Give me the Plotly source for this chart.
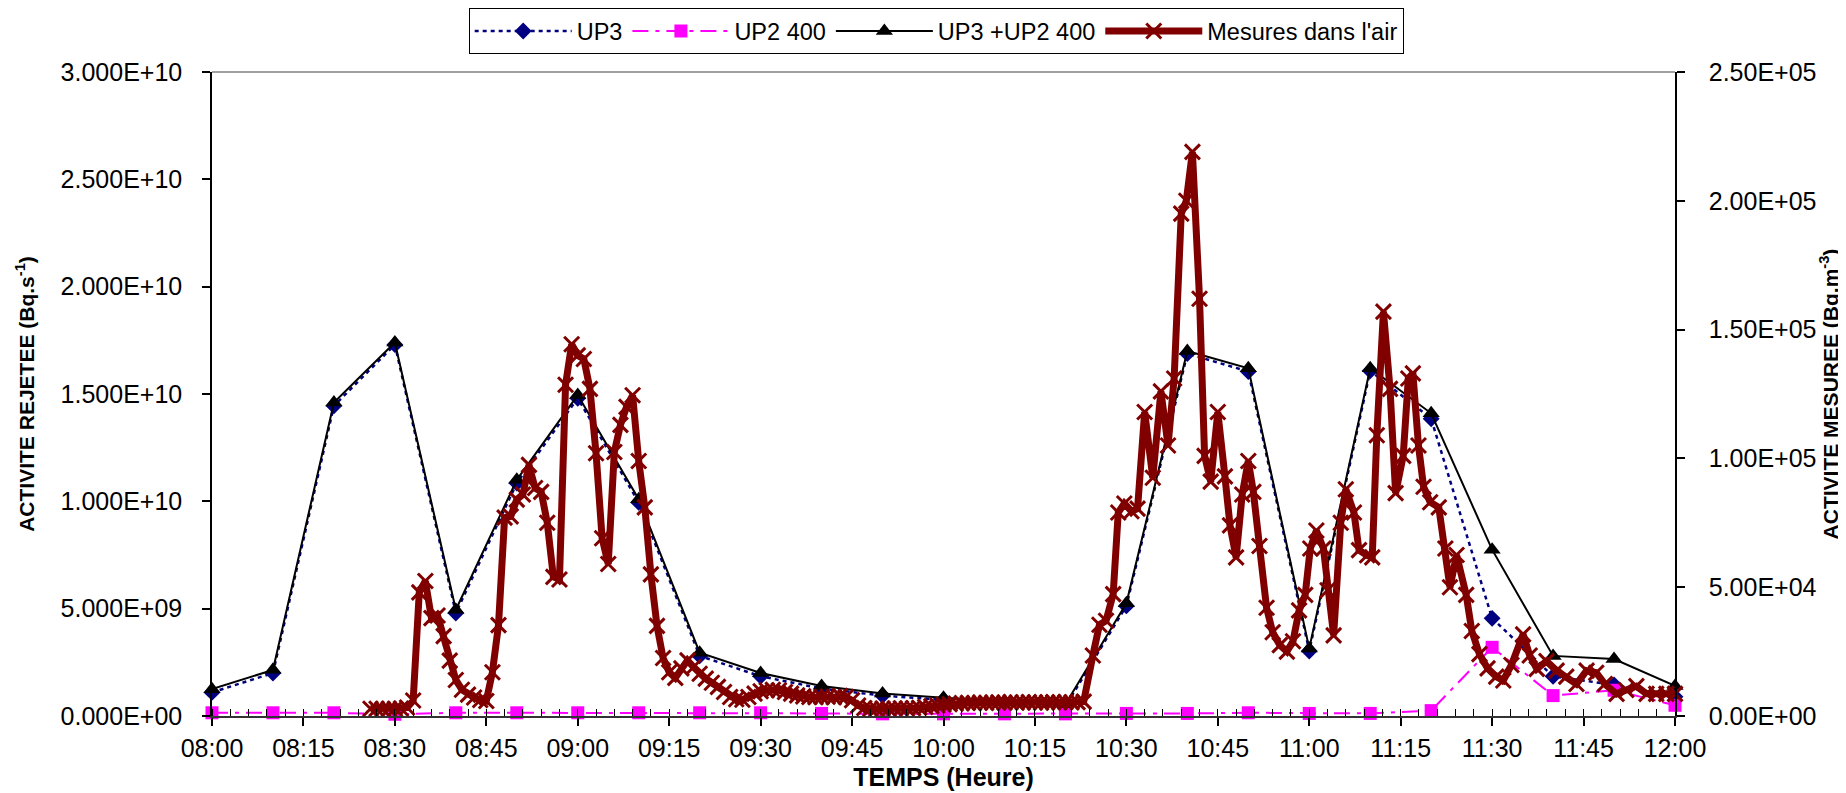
import plotly.graph_objects as go

DAY = "2000-01-01 "

# ---- release data (every 10 minutes), Bq/s ----
release_times = ["08:00", "08:10", "08:20", "08:30", "08:40", "08:50", "09:00", "09:10",
                 "09:20", "09:30", "09:40", "09:50", "10:00", "10:10", "10:20", "10:30",
                 "10:40", "10:50", "11:00", "11:10", "11:20", "11:30", "11:40", "11:50", "12:00"]
up3 = [1.10e9, 2.00e9, 14.45e9, 17.30e9, 4.80e9, 10.85e9, 14.80e9, 9.95e9,
       2.80e9, 1.85e9, 1.28e9, 0.95e9, 0.75e9, 0.60e9, 0.45e9, 5.13e9,
       16.88e9, 16.05e9, 3.03e9, 16.08e9, 13.85e9, 4.55e9, 1.85e9, 1.45e9, 0.90e9]
up2_400 = [0.15e9, 0.15e9, 0.15e9, 0.08e9, 0.15e9, 0.15e9, 0.15e9, 0.15e9,
           0.15e9, 0.15e9, 0.12e9, 0.10e9, 0.10e9, 0.10e9, 0.10e9, 0.12e9,
           0.12e9, 0.15e9, 0.12e9, 0.12e9, 0.25e9, 3.20e9, 0.95e9, 1.20e9, 0.50e9]
up3_up2_400 = [1.25e9, 2.15e9, 14.60e9, 17.40e9, 4.95e9, 11.00e9, 14.95e9, 10.10e9,
               2.95e9, 2.00e9, 1.40e9, 1.05e9, 0.85e9, 0.70e9, 0.55e9, 5.25e9,
               17.00e9, 16.20e9, 3.15e9, 16.20e9, 14.10e9, 7.75e9, 2.80e9, 2.65e9, 1.40e9]

# ---- air measurements, Bq/m3 ----
meas_times = [
    "08:26:00", "08:27:00", "08:28:00", "08:29:00", "08:30:00", "08:31:00", "08:32:00", "08:33:00",
    "08:34:00", "08:35:00", "08:36:00", "08:37:00", "08:38:00", "08:39:00", "08:40:00", "08:41:00",
    "08:42:00", "08:43:00", "08:44:00", "08:45:00", "08:46:00", "08:47:00", "08:48:00", "08:49:00",
    "08:50:00", "08:51:00", "08:52:00", "08:53:00", "08:54:00", "08:55:00", "08:56:00", "08:57:00",
    "08:58:00", "08:59:00", "09:00:00", "09:01:00", "09:02:00", "09:03:00", "09:04:00", "09:05:00",
    "09:06:00", "09:07:00", "09:08:00", "09:09:00", "09:10:00", "09:11:00", "09:12:00", "09:13:00",
    "09:14:00", "09:15:00", "09:16:00", "09:17:00", "09:18:00", "09:19:00", "09:20:00", "09:21:00",
    "09:22:00", "09:23:00", "09:24:00", "09:25:00", "09:26:00", "09:27:00", "09:28:00", "09:29:00",
    "09:30:00", "09:31:00", "09:32:00", "09:33:00", "09:34:00", "09:35:00", "09:36:00", "09:37:00",
    "09:38:00", "09:39:00", "09:40:00", "09:41:00", "09:42:00", "09:43:00", "09:44:00", "09:45:00",
    "09:46:00", "09:47:00", "09:48:00", "09:49:00", "09:50:00", "09:51:00", "09:52:00", "09:53:00",
    "09:54:00", "09:55:00", "09:56:00", "09:57:00", "09:58:00", "09:59:00", "10:00:00", "10:01:00",
    "10:02:00", "10:03:00", "10:04:00", "10:05:00", "10:06:00", "10:07:00", "10:08:00", "10:09:00",
    "10:10:00", "10:11:00", "10:12:00", "10:13:00", "10:14:00", "10:15:00", "10:16:00", "10:17:00",
    "10:18:00", "10:19:00", "10:20:00", "10:21:00", "10:22:00", "10:23:00",
    "10:24:30", "10:25:35", "10:26:40", "10:27:50", "10:28:40", "10:29:40", "10:30:50", "10:31:50",
    "10:33:00", "10:34:20", "10:35:40", "10:36:50", "10:37:50", "10:39:00", "10:39:50", "10:40:50",
    "10:42:00", "10:42:50", "10:43:50", "10:45:00", "10:46:10", "10:47:00", "10:48:00", "10:49:00",
    "10:50:00", "10:50:50", "10:51:50", "10:53:00", "10:54:00", "10:55:10", "10:56:20", "10:57:20",
    "10:58:20", "10:59:20", "11:00:10", "11:01:10", "11:02:20", "11:03:00", "11:04:00", "11:05:10",
    "11:06:00", "11:07:20", "11:08:10", "11:09:30", "11:10:20", "11:11:05", "11:12:10", "11:13:15",
    "11:14:10", "11:15:25", "11:16:15", "11:17:00", "11:17:55", "11:18:45", "11:19:50", "11:21:15",
    "11:22:20", "11:23:05", "11:24:10", "11:25:45", "11:26:40", "11:27:55", "11:29:15", "11:30:40",
    "11:31:50", "11:33:10", "11:35:05", "11:36:10", "11:37:20", "11:38:55", "11:40:35", "11:42:10",
    "11:43:50", "11:45:30", "11:47:05", "11:48:30", "11:50:25", "11:52:00", "11:53:40", "11:55:20",
    "11:56:55", "11:58:35", "12:00:00"]
meas_values = [
    2800, 2800, 2700, 2800, 2800, 2900, 3300, 6000,
    48000, 52400, 38000, 39000, 31000, 21500, 14000, 10200,
    8300, 7200, 6200, 5800, 17000, 35300, 77000, 77500,
    84000, 86000, 97500, 88500, 87000, 75000, 54000, 53000,
    128600, 144300, 140000, 138600, 127000, 102000, 69000, 59000,
    102500, 113000, 120000, 124500, 99000, 81000, 55000, 35000,
    22500, 17000, 14800, 18500, 21600, 19000, 16400, 14500,
    12900, 11300, 9300, 7400, 6500, 6300, 7400, 8700,
    9600, 10000, 10200, 10000, 9300, 8700, 8000, 7600,
    7400, 7300, 7400, 7500, 7300, 7800, 7400, 6100,
    4100, 3100, 2800, 2800, 2900, 2800, 2900, 3000,
    2900, 3000, 3200, 3500, 3800, 4100, 4400, 4600,
    4800, 5000, 5100, 5000, 5200, 5100, 5200, 5300,
    5200, 5300, 5200, 5300, 5400, 5300, 5200, 5300,
    5400, 5300, 5400, 5300, 5400, 5600,
    23500, 35400, 37000, 47300, 79000, 82500, 79500, 80500,
    118000, 92500, 126000, 105000, 131000, 195000, 200000, 219000,
    162000, 101000, 91000, 118000, 93000, 74000, 61600, 86000,
    99000, 87000, 66000, 42000, 32500, 27500, 25000, 29000,
    41000, 47000, 65000, 72000, 65000, 48800, 31300, 75000,
    88000, 79000, 64400, 62400, 61600, 109000, 157000, 127000,
    86500, 101000, 131000, 133000, 105000, 89000, 83000, 81000,
    65000, 50000, 62500, 47000, 33000, 24000, 18500, 15300,
    13800, 19800, 31700, 23500, 18300, 21300, 17600, 15300,
    12400, 17600, 16800, 12400, 8600, 10100, 11600, 8600,
    8600, 8600, 8600]

left_tickvals = [0, 5e9, 1e10, 1.5e10, 2e10, 2.5e10, 3e10]
left_ticktext = ["0.000E+00", "5.000E+09", "1.000E+10", "1.500E+10", "2.000E+10", "2.500E+10", "3.000E+10"]
right_tickvals = [0, 5e4, 1e5, 1.5e5, 2e5, 2.5e5]
right_ticktext = ["0.00E+00", "5.00E+04", "1.00E+05", "1.50E+05", "2.00E+05", "2.50E+05"]

FONT = "Liberation Sans, Arial, sans-serif"

rx = [DAY + t for t in release_times]
mx = [DAY + t for t in meas_times]

fig = go.Figure()
fig.add_trace(go.Scatter(
    x=rx, y=up3, name="UP3", mode="lines+markers", cliponaxis=False,
    line=dict(color="#000080", width=2.5, dash="4px,4px"),
    marker=dict(symbol="diamond", size=13, color="#000080")))
fig.add_trace(go.Scatter(
    x=rx, y=up2_400, name="UP2 400", mode="lines+markers", cliponaxis=False,
    line=dict(color="#FF00FF", width=2, dash="16px,7px,4px,7px"),
    marker=dict(symbol="square", size=13, color="#FF00FF")))
fig.add_trace(go.Scatter(
    x=rx, y=up3_up2_400, name="UP3 +UP2 400", mode="lines+markers", cliponaxis=False,
    line=dict(color="#000000", width=2),
    marker=dict(symbol="triangle-up", size=15, color="#000000")))
fig.add_trace(go.Scatter(
    x=mx, y=meas_values, name="Mesures dans l'air", mode="lines+markers", yaxis="y2",
    cliponaxis=False,
    line=dict(color="#800000", width=7),
    marker=dict(symbol="x-thin", size=15, color="#800000",
                line=dict(color="#800000", width=3))))

fig.update_layout(
    width=1838, height=785,
    margin=dict(l=204, r=171, t=64, b=77, autoexpand=False),
    paper_bgcolor="white", plot_bgcolor="white",
    font=dict(family=FONT, size=25, color="black"),
    showlegend=True,
    legend=dict(orientation="h", x=0.495, xanchor="center", y=1.099, yanchor="top",
                bordercolor="black", borderwidth=1, bgcolor="white",
                font=dict(family=FONT, size=23.5, color="black"),
                itemwidth=97, tracegroupgap=0, traceorder="normal"),
    xaxis=dict(
        type="date", automargin=False,
        range=[DAY + "08:00", DAY + "12:00"],
        tick0=DAY + "08:00", dtick=900000, tickformat="%H:%M",
        ticks="outside", ticklen=8, tickwidth=1.5, tickcolor="black",
        minor=dict(dtick=180000, ticks="inside", ticklen=7, tickwidth=1, tickcolor="black"),
        showline=True, linecolor="#333333", linewidth=2,
        showgrid=False, zeroline=False,
        ticklabelstandoff=1,
        title=dict(text="<b>TEMPS (Heure)</b>", font=dict(family=FONT, size=25), standoff=7)),
    yaxis=dict(
        automargin=False,
        range=[0, 3e10], tickvals=left_tickvals, ticktext=left_ticktext,
        ticks="outside", ticklen=8, tickwidth=1.5, tickcolor="black",
        showline=True, linecolor="black", linewidth=1.5,
        showgrid=False, zeroline=False, ticklabelstandoff=15,
        title=dict(text="<b>ACTIVITE REJETEE (Bq.s<sup>-1</sup>)</b>",
                   font=dict(family=FONT, size=21), standoff=20)),
    yaxis2=dict(
        automargin=False,
        range=[0, 2.5e5], tickvals=right_tickvals, ticktext=right_ticktext,
        overlaying="y", side="right", anchor="x",
        ticks="outside", ticklen=8, tickwidth=1.5, tickcolor="black",
        showline=True, linecolor="black", linewidth=1.5,
        showgrid=False, zeroline=False, ticklabelstandoff=19,
        title=dict(text="<b>ACTIVITE MESUREE (Bq.m<sup>-3</sup>)</b>",
                   font=dict(family=FONT, size=21), standoff=0)),
    shapes=[dict(type="line", xref="paper", yref="paper", x0=0, x1=1, y0=1, y1=1,
                 line=dict(color="#808080", width=1.5))],
    hovermode=False,
)

fig.write_html("out.html")
